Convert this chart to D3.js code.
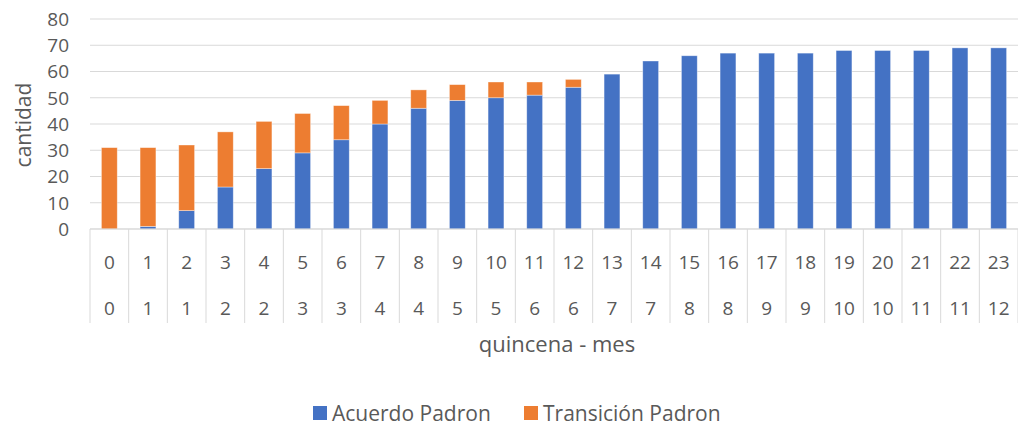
<!DOCTYPE html>
<html>
<head>
<meta charset="utf-8">
<script src="https://cdn.jsdelivr.net/npm/d3@7"></script>
<style>
  body { margin: 0; background: #fff; }
  text { font-family: "Open Sans", sans-serif; fill: #595959; }
</style>
</head>
<body>
<svg id="canvas" width="1018" height="427"></svg>
<script>
// data
let quincenas = ['0','1','2','3','4','5','6','7','8','9','10','11','12','13','14','15','16','17','18','19','20','21','22','23']
let meses = ['0','1','1','2','2','3','3','4','4','5','5','6','6','7','7','8','8','9','9','10','10','11','11','12']
let acuerdo = [0, 1, 7, 16, 23, 29, 34, 40, 46, 49, 50, 51, 54, 59, 64, 66, 67, 67, 67, 68, 68, 68, 69, 69]
let transicion = [31, 30, 25, 21, 18, 15, 13, 9, 7, 6, 6, 5, 3, 0, 0, 0, 0, 0, 0, 0, 0, 0, 0, 0]
let seriesNames = ['Acuerdo Padron', 'Transición Padron']
let colors = ['#4472c4', '#ed7d31']
let yTicks = [0, 10, 20, 30, 40, 50, 60, 70, 80]

let canvas = d3.select('#canvas')

let plotLeft = 90, plotRight = 1018, plotTop = 19, plotBottom = 229

let x = d3.scaleBand()
    .domain(quincenas)
    .range([plotLeft, plotRight])
    .paddingInner(0.59)
    .paddingOuter(0.295)

let y = d3.scaleLinear()
    .domain([0, 80])
    .range([plotBottom, plotTop])

// gridlines
canvas.append('g')
    .selectAll('line')
    .data(yTicks)
    .enter()
    .append('line')
    .attr('x1', plotLeft)
    .attr('x2', plotRight)
    .attr('y1', (d) => y(d))
    .attr('y2', (d) => y(d))
    .attr('stroke', '#d9d9d9')
    .attr('stroke-width', 1)

// y tick labels
canvas.append('g')
    .selectAll('text')
    .data(yTicks)
    .enter()
    .append('text')
    .attr('x', 69)
    .attr('y', (d) => y(d))
    .attr('dy', '0.36em')
    .attr('text-anchor', 'end')
    .style('font-size', '19px')
    .text((d) => d)

// stacked bars
let rows = quincenas.map((q, i) => ({ q: q, a: acuerdo[i], t: transicion[i] }))
let stack = d3.stack().keys(['a', 't'])(rows)

canvas.append('g')
    .selectAll('g')
    .data(stack)
    .enter()
    .append('g')
    .attr('fill', (d, i) => colors[i])
    .selectAll('rect')
    .data((d) => d.filter((p) => p[1] > p[0]))
    .enter()
    .append('rect')
    .attr('x', (d) => x(d.data.q))
    .attr('width', x.bandwidth())
    .attr('y', (d) => y(d[1]))
    .attr('height', (d) => y(d[0]) - y(d[1]))
    .attr('stroke', '#ffffff')
    .attr('stroke-opacity', 0.5)
    .attr('stroke-width', 0.75)

// category separators
let step = x.step()
let edges = d3.range(quincenas.length + 1).map((i) => plotLeft + i * step)
canvas.append('g')
    .selectAll('line')
    .data(edges)
    .enter()
    .append('line')
    .attr('x1', (d) => d)
    .attr('x2', (d) => d)
    .attr('y1', plotBottom)
    .attr('y2', 323)
    .attr('stroke', '#d9d9d9')
    .attr('stroke-width', 1)

// baseline
canvas.append('line')
    .attr('x1', plotLeft).attr('x2', plotRight)
    .attr('y1', plotBottom).attr('y2', plotBottom)
    .attr('stroke', '#d9d9d9')

// two rows of category labels
canvas.append('g')
    .selectAll('text')
    .data(quincenas)
    .enter()
    .append('text')
    .attr('x', (d) => x(d) + x.bandwidth() / 2)
    .attr('y', 262)
    .attr('dy', '0.36em')
    .attr('text-anchor', 'middle')
    .style('font-size', '19px')
    .text((d) => d)

canvas.append('g')
    .selectAll('text')
    .data(meses)
    .enter()
    .append('text')
    .attr('x', (d, i) => x(quincenas[i]) + x.bandwidth() / 2)
    .attr('y', 308)
    .attr('dy', '0.36em')
    .attr('text-anchor', 'middle')
    .style('font-size', '19px')
    .text((d) => d)

// axis titles
canvas.append('text')
    .attr('x', 557)
    .attr('y', 352)
    .attr('text-anchor', 'middle')
    .style('font-size', '22px')
    .text('quincena - mes')

canvas.append('text')
    .attr('transform', 'translate(31,125) rotate(-90)')
    .attr('text-anchor', 'middle')
    .style('font-size', '21px')
    .text('cantidad')

// legend
let legendX = [313, 524]
let legend = canvas.append('g')
    .selectAll('g')
    .data(seriesNames)
    .enter()
    .append('g')
    .attr('transform', (d, i) => 'translate(' + legendX[i] + ',406)')

legend.append('rect')
    .attr('width', 14)
    .attr('height', 14)
    .attr('fill', (d, i) => colors[i])

legend.append('text')
    .attr('x', 19)
    .attr('y', 7)
    .attr('dy', '0.36em')
    .style('font-size', '21px')
    .text((d) => d)
</script>
</body>
</html>
